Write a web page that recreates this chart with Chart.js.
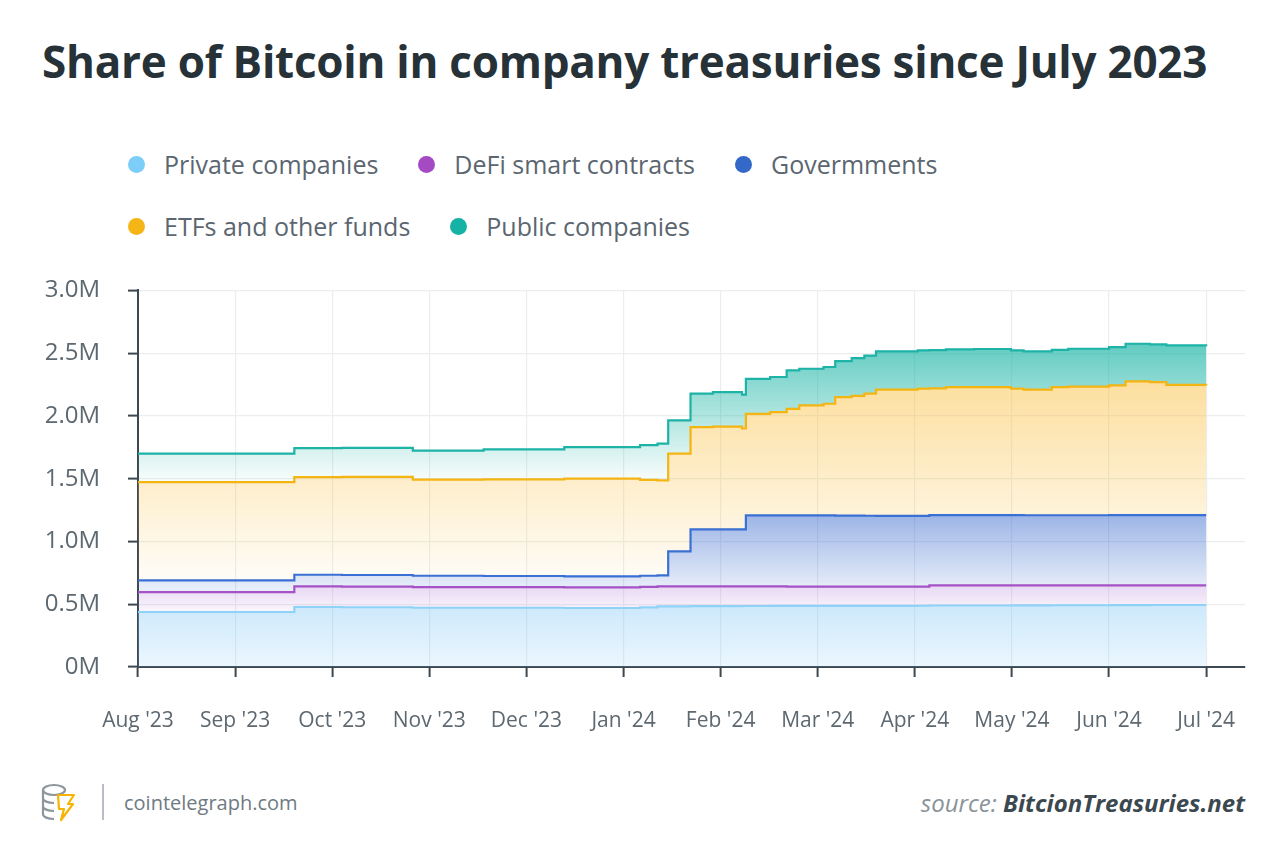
<!DOCTYPE html>
<html>
<head>
<meta charset="utf-8">
<script src="https://cdn.jsdelivr.net/npm/chart.js@4.4.1/dist/chart.umd.min.js"></script>
<style>
  html, body { margin: 0; padding: 0; background: #fff; }
  body { width: 1280px; height: 867px; position: relative; overflow: hidden; font-family: 'Open Sans', sans-serif; }
  #title { position: absolute; left: 42px; top: 31px; margin: 0; font-size: 44px; font-weight: 700; color: #263238; white-space: nowrap; letter-spacing: -0.25px; }
  #legend { position: absolute; left: 128px; top: 147px; width: 900px; display: flex; flex-wrap: wrap; row-gap: 14px; column-gap: 40px; }
  .item { display: flex; align-items: center; font-size: 25px; color: #5b6670; line-height: 34px; }
  .dot { width: 17px; height: 17px; border-radius: 50%; margin-right: 19px; }
  #wrap { position: absolute; left: 0; top: 248px; width: 1280px; height: 512px; }
  #footer-left { position: absolute; left: 40px; top: 782px; display: flex; align-items: center; }
  #footer-left .sep { width: 2px; height: 36px; background: #b8bec3; margin: 0 20px 0 22px; }
  #footer-left span { font-size: 20px; color: #6f7a82; }
  #source { position: absolute; right: 35px; top: 786px; font-size: 24px; font-style: italic; color: #8a9399; white-space: nowrap; }
  #source b { color: #3b4850; font-weight: 700; }
</style>
</head>
<body>
<h1 id="title">Share of Bitcoin in company treasuries since July 2023</h1>
<div id="legend"></div>
<div id="wrap"><canvas id="treasuryChart"></canvas></div>
<div id="footer-left">
  <svg width="40" height="40" viewBox="0 0 40 40">
    <g fill="none" stroke="#8d969c" stroke-width="2.2">
      <ellipse cx="14" cy="8" rx="11" ry="5"/>
      <path d="M3 8v8c0 3 5 5 11 5M3 16v8c0 3 5 5 11 5M3 24v8c0 3 5 5 11 5"/>
    </g>
    <path d="M18 13h16l-6 9h5l-12 16 3-11h-5z" fill="none" stroke="#f5b400" stroke-width="2.2" stroke-linejoin="round"/>
  </svg>
  <div class="sep"></div>
  <span>cointelegraph.com</span>
</div>
<div id="source">source: <b>BitcionTreasuries.net</b></div>
<script>
// month ticks (x = months since 1 Aug 2023)
const monthLabels = ["Aug '23", "Sep '23", "Oct '23", "Nov '23", "Dec '23", "Jan '24", "Feb '24", "Mar '24", "Apr '24", "May '24", "Jun '24", "Jul '24"];
const stepX = [0, 1.61, 2.1, 2.83, 3.56, 4.39, 5.17, 5.35, 5.46, 5.69, 5.92, 6.22, 6.26, 6.51, 6.68, 6.81, 7.06, 7.18, 7.35, 7.48, 7.6, 8.03, 8.15, 8.32, 8.61, 8.99, 9.12, 9.41, 9.58, 10.0, 10.17, 10.42, 10.59, 11.0];

// holdings in millions of BTC (stacked)
const privateCompanies = [0.438, 0.478, 0.476, 0.472, 0.472, 0.470, 0.475, 0.483, 0.483, 0.485, 0.485, 0.486, 0.486, 0.487, 0.487, 0.487, 0.487, 0.487, 0.487, 0.487, 0.487, 0.488, 0.490, 0.490, 0.490, 0.491, 0.491, 0.492, 0.492, 0.493, 0.493, 0.494, 0.494, 0.494];
const defiContracts = [0.159, 0.164, 0.164, 0.165, 0.164, 0.165, 0.163, 0.159, 0.159, 0.157, 0.157, 0.156, 0.156, 0.155, 0.154, 0.154, 0.154, 0.154, 0.153, 0.153, 0.153, 0.152, 0.160, 0.160, 0.160, 0.159, 0.159, 0.158, 0.158, 0.157, 0.157, 0.157, 0.157, 0.157];
const governments = [0.093, 0.093, 0.093, 0.090, 0.089, 0.087, 0.089, 0.088, 0.279, 0.454, 0.454, 0.454, 0.566, 0.566, 0.567, 0.567, 0.567, 0.565, 0.566, 0.565, 0.564, 0.564, 0.560, 0.560, 0.560, 0.560, 0.559, 0.559, 0.559, 0.560, 0.560, 0.559, 0.559, 0.559];
const etfFunds = [0.783, 0.778, 0.782, 0.765, 0.770, 0.778, 0.763, 0.757, 0.778, 0.815, 0.819, 0.804, 0.808, 0.822, 0.849, 0.876, 0.889, 0.944, 0.954, 0.972, 1.006, 1.013, 1.010, 1.020, 1.020, 1.007, 1.001, 1.021, 1.024, 1.033, 1.065, 1.060, 1.038, 1.033];
const publicCompanies = [0.226, 0.231, 0.230, 0.231, 0.238, 0.252, 0.278, 0.293, 0.266, 0.266, 0.275, 0.270, 0.280, 0.280, 0.306, 0.292, 0.293, 0.287, 0.300, 0.303, 0.304, 0.305, 0.305, 0.300, 0.303, 0.305, 0.304, 0.297, 0.302, 0.305, 0.300, 0.300, 0.314, 0.313];

const series = [
    { label: 'Private companies', values: privateCompanies, line: '#8fd2f8', dot: '#7ccdf8', rgb: '120,195,245', top: 0.5, topA: 0.38, bottom: 0, bottomA: 0.14 },
    { label: 'DeFi smart contracts', values: defiContracts, line: '#a552c6', dot: '#a44bc3', rgb: '175,120,215', top: 0.66, topA: 0.3, bottom: 0.45, bottomA: 0.08 },
    { label: 'Govermments', values: governments, line: '#3a70d3', dot: '#3468c9', rgb: '55,105,205', top: 1.22, topA: 0.5, bottom: 0.6, bottomA: 0.1 },
    { label: 'ETFs and other funds', values: etfFunds, line: '#f4b412', dot: '#f5b516', rgb: '250,190,60', top: 2.3, topA: 0.5, bottom: 0.7, bottomA: 0.04 },
    { label: 'Public companies', values: publicCompanies, line: '#1db3a6', dot: '#16b2a5', rgb: '25,180,165', top: 2.6, topA: 0.7, bottom: 1.5, bottomA: 0.04 }
];

// html legend, two rows like the original
const legendEl = document.getElementById('legend');
series.forEach((s, i) => {
    const item = document.createElement('div');
    item.className = 'item';
    item.innerHTML = `<span class="dot" style="background:${s.dot}"></span>${s.label}`;
    legendEl.appendChild(item);
    if (i === 2) {
        const br = document.createElement('div');
        br.style.flexBasis = '100%';
        br.style.height = '0';
        legendEl.appendChild(br);
    }
});

function bandFill(s) {
    return (context) => {
        const chart = context.chart;
        const area = chart.chartArea;
        if (!area) return 'rgba(0,0,0,0)';
        const y = chart.scales.y;
        const g = chart.ctx.createLinearGradient(0, y.getPixelForValue(s.top), 0, y.getPixelForValue(s.bottom));
        g.addColorStop(0, `rgba(${s.rgb},${s.topA})`);
        g.addColorStop(1, `rgba(${s.rgb},${s.bottomA})`);
        return g;
    };
}

const ctx = document.getElementById('treasuryChart').getContext('2d');

new Chart(ctx, {
    type: 'line',
    data: {
        datasets: series.map((s, i) => ({
            label: s.label,
            data: stepX.map((x, k) => ({ x: x, y: s.values[k] })),
            borderColor: s.line,
            borderWidth: 2.2,
            backgroundColor: bandFill(s),
            fill: i === 0 ? 'origin' : '-1',
            stepped: true,
            pointRadius: 0
        }))
    },
    options: {
        responsive: true,
        maintainAspectRatio: false,
        animation: false,
        layout: { padding: { top: 20, right: 35, bottom: 0, left: 0 } },
        plugins: {
            legend: { display: false },
            tooltip: { enabled: false }
        },
        scales: {
            x: {
                type: 'linear',
                min: 0,
                max: 11.4,
                afterBuildTicks: scale => {
                    scale.ticks = monthLabels.map((_, i) => ({ value: i }));
                },
                afterFit: scale => { scale.height = 93; },
                ticks: {
                    callback: v => monthLabels[v],
                    font: { family: 'Open Sans', size: 21 },
                    color: '#5d6870',
                    padding: 31,
                    maxRotation: 0,
                    autoSkip: false
                },
                grid: {
                    color: '#ebedef',
                    lineWidth: 1.2,
                    tickColor: '#3d4850',
                    tickLength: 10,
                    tickWidth: 2
                },
                border: { color: '#3d4850', width: 2 }
            },
            y: {
                stacked: true,
                min: 0,
                max: 3,
                afterFit: scale => { scale.width = 138; },
                ticks: {
                    stepSize: 0.5,
                    callback: v => v === 0 ? '0M' : v.toFixed(1) + 'M',
                    font: { family: 'Open Sans', size: 24 },
                    color: '#5d6870',
                    padding: 28
                },
                grid: {
                    color: '#ebedef',
                    lineWidth: 1.2,
                    tickColor: '#3d4850',
                    tickLength: 10,
                    tickWidth: 2
                },
                border: { color: '#3d4850', width: 2 }
            }
        }
    }
});
</script>
</body>
</html>
